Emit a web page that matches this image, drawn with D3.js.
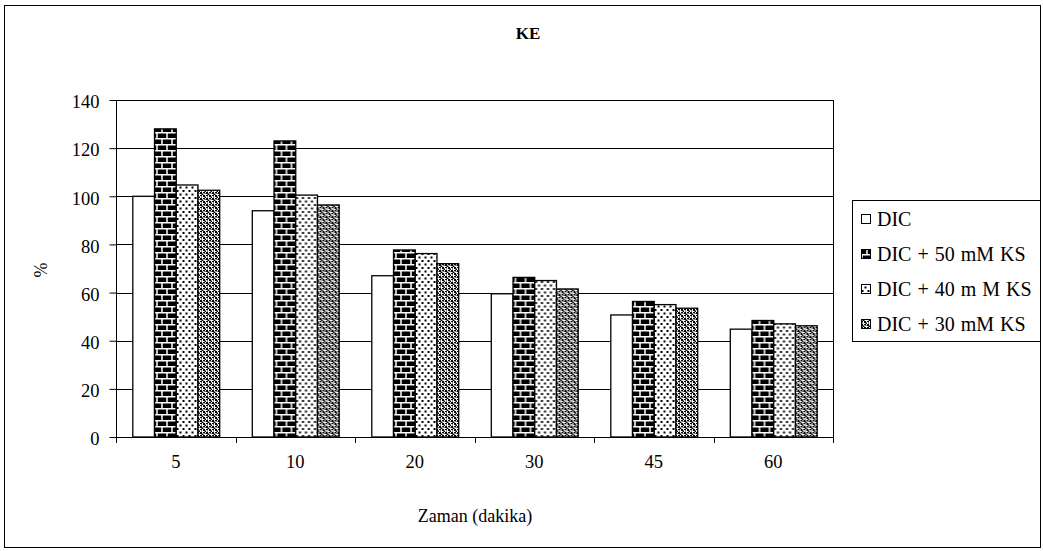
<!DOCTYPE html>
<html>
<head>
<meta charset="utf-8">
<script src="https://cdn.jsdelivr.net/npm/d3@7"></script>
<style>
  html, body { margin: 0; padding: 0; background: #fff; }
  svg { display: block; }
  svg text { font-family: 'Liberation Serif', 'DejaVu Serif', serif; }
</style>
</head>
<body>
<svg id="chart" width="1043" height="551"></svg>
<script>
// Time points (minutes) and measured percentages for each treatment
const categories = ["5", "10", "20", "30", "45", "60"];
const seriesNames = ["DIC", "DIC + 50 mM KS", "DIC + 40 m M KS", "DIC + 30 mM KS"];
const dic      = [100, 94, 67, 59.5, 50.7, 44.8];
const dic50    = [128, 123, 77.7, 66.3, 56.3, 48.4];
const dic40    = [104.7, 100.5, 76.2, 65, 55, 47];
const dic30    = [102.5, 96.4, 72, 61.5, 53.5, 46.2];
const yTicks   = [0, 20, 40, 60, 80, 100, 120, 140];

const seriesValues = [dic, dic50, dic40, dic30];
const fills = ["#fff", "url(#brick)", "url(#dots)", "url(#checks)"];
const FONT = "'Liberation Serif', 'DejaVu Serif', serif";

const svg = d3.select("#chart");

// --- fill patterns ---
const defs = svg.append("defs");

// black bricks with white mortar
const brick = defs.append("pattern")
  .attr("id", "brick").attr("patternUnits", "userSpaceOnUse")
  .attr("width", 10).attr("height", 12);
brick.append("rect").attr("width", 10).attr("height", 12).attr("fill", "#000");
brick.append("path")
  .attr("d", "M0,0.75H10M0,6.75H10M1,0V6.75M6,6.75V12")
  .attr("stroke", "#fff").attr("stroke-width", 1.5).attr("fill", "none");

// staggered dots
const dots = defs.append("pattern")
  .attr("id", "dots").attr("patternUnits", "userSpaceOnUse")
  .attr("width", 6).attr("height", 7);
dots.append("rect").attr("width", 6).attr("height", 7).attr("fill", "#fff");
dots.append("rect").attr("x", 0.5).attr("y", 1).attr("width", 2).attr("height", 2).attr("fill", "#000");
dots.append("rect").attr("x", 3.5).attr("y", 4.5).attr("width", 2).attr("height", 2).attr("fill", "#000");

// dense diamond texture
const checks = defs.append("pattern")
  .attr("id", "checks").attr("patternUnits", "userSpaceOnUse")
  .attr("width", 6).attr("height", 6);
checks.append("rect").attr("width", 6).attr("height", 6).attr("fill", "#fff");
checks.append("path")
  .attr("d", "M0,0h2v2h-2zM3,3h2v2h-2zM3,0h2v1h-2zM0,3h2v1h-2zM1.5,1.5h2v1.5h-2zM4.5,4.5h1.5v1.5h-1.5zM4.5,1h1v1h-1zM1,4.5h1v1h-1z")
  .attr("fill", "#000");

// --- outer frame ---
svg.append("rect")
  .attr("x", 4.5).attr("y", 5.5).attr("width", 1036).attr("height", 542)
  .attr("fill", "none").attr("stroke", "#000").attr("stroke-width", 1);

// --- scales ---
const plot = { left: 116, right: 833, top: 100, bottom: 437 };

const x = d3.scaleBand()
  .domain(categories)
  .range([plot.left, plot.right])
  .paddingInner(0).paddingOuter(0);

const xs = d3.scaleBand()
  .domain(d3.range(seriesNames.length))
  .range([0, x.bandwidth()])
  .paddingInner(0).paddingOuter(0.75);

const y = d3.scaleLinear().domain([0, 140]).range([plot.bottom, plot.top]);

// --- gridlines ---
svg.append("g")
  .selectAll("line")
  .data(yTicks.filter(d => d > 0))
  .join("line")
  .attr("x1", plot.left).attr("x2", plot.right)
  .attr("y1", d => Math.round(y(d)) + 0.5).attr("y2", d => Math.round(y(d)) + 0.5)
  .attr("stroke", "#000").attr("stroke-width", 1);

// right border of plot area
svg.append("line")
  .attr("x1", plot.right + 0.5).attr("x2", plot.right + 0.5)
  .attr("y1", plot.top).attr("y2", plot.bottom)
  .attr("stroke", "#000");

// --- bars ---
const groups = svg.append("g")
  .selectAll("g")
  .data(categories)
  .join("g")
  .attr("transform", d => `translate(${x(d)},0)`);

groups.selectAll("rect")
  .data((d, i) => seriesValues.map((vals, s) => ({ s, v: vals[i] })))
  .join("rect")
  .attr("x", d => xs(d.s) + 0.5)
  .attr("y", d => y(d.v))
  .attr("width", xs.bandwidth())
  .attr("height", d => y(0) - y(d.v))
  .attr("fill", d => fills[d.s])
  .attr("stroke", "#000")
  .attr("stroke-width", 1.3);

// --- axes ---
const yAxis = d3.axisLeft(y).tickValues(yTicks).tickSize(7).tickPadding(10);
const gy = svg.append("g")
  .attr("transform", `translate(${plot.left + 0.5},0)`)
  .call(yAxis);

const xAxis = d3.axisBottom(x).tickSize(0).tickPadding(17);
const gx = svg.append("g")
  .attr("transform", `translate(0,${plot.bottom + 0.5})`)
  .call(xAxis);

// ticks between categories
svg.append("g")
  .selectAll("line")
  .data(d3.range(categories.length + 1))
  .join("line")
  .attr("x1", i => Math.round(plot.left + i * x.step()) + 0.5)
  .attr("x2", i => Math.round(plot.left + i * x.step()) + 0.5)
  .attr("y1", plot.bottom).attr("y2", plot.bottom + 6)
  .attr("stroke", "#000");

[gx, gy].forEach(g => {
  g.attr("font-family", null).attr("font-size", 18.5);
  g.selectAll("path.domain").attr("stroke", "#000").attr("stroke-width", 1);
  g.selectAll(".tick line").attr("stroke", "#000");
  g.selectAll("text").attr("fill", "#000").style("font-family", FONT);
});
gy.select("path.domain").attr("d", `M0,${plot.top}V${plot.bottom}`);
gy.selectAll(".tick text").attr("dy", "0.42em");
gx.select("path.domain").attr("d", `M${plot.left},0H${plot.right}`);

// --- titles ---
svg.append("text")
  .attr("x", 528).attr("y", 39)
  .attr("text-anchor", "middle")
  .style("font-family", FONT)
  .attr("font-size", 17).attr("font-weight", "bold")
  .text("KE");

svg.append("text")
  .attr("x", 475).attr("y", 522)
  .attr("text-anchor", "middle")
  .style("font-family", FONT)
  .attr("font-size", 18)
  .text("Zaman (dakika)");

svg.append("text")
  .attr("transform", "translate(47,270) rotate(-90)")
  .attr("text-anchor", "middle")
  .style("font-family", FONT)
  .attr("font-size", 18)
  .text("%");

// --- legend ---
const legend = svg.append("g");
legend.append("rect")
  .attr("x", 852.5).attr("y", 200.5).attr("width", 188).attr("height", 141)
  .attr("fill", "#fff").attr("stroke", "#000");

const items = legend.selectAll("g.item")
  .data(seriesNames)
  .join("g")
  .attr("class", "item")
  .attr("transform", (d, i) => `translate(861,${219 + i * 35})`);

items.append("rect")
  .attr("x", 0.5).attr("y", -4.5).attr("width", 9).attr("height", 9)
  .attr("fill", (d, i) => fills[i]).attr("stroke", "#000");

items.append("text")
  .attr("x", 16).attr("y", 7)
  .style("font-family", FONT)
  .style("word-spacing", "1px")
  .attr("font-size", 20)
  .text(d => d);
</script>
</body>
</html>
